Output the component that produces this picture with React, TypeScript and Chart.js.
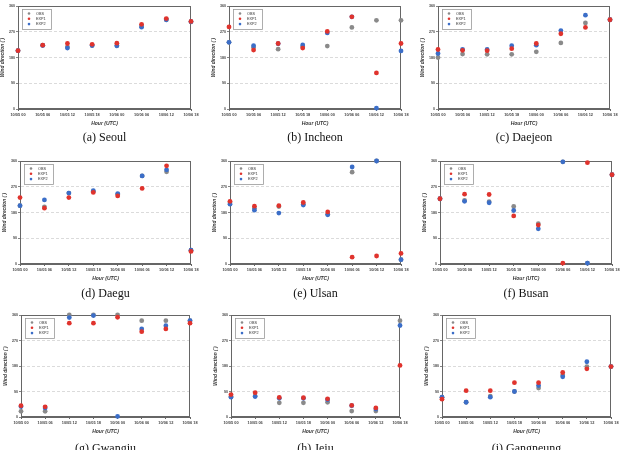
import React, { useEffect, useRef } from "react";
import { Chart, registerables } from "chart.js";
Chart.register(...registerables);

// ---------- data ----------
const hours = ["10/05 00", "10/05 06", "10/05 12", "10/05 18", "10/06 00", "10/06 06", "10/06 12", "10/06 18"];
const yTicks = [0, 90, 180, 270, 360];
const seriesNames = ["OBS", "EXP1", "EXP2"];

const seoulOBS = [204, 223, 217, 222, 221, 290, 312, 305];
const seoulEXP1 = [204, 223, 229, 226, 230, 296, 316, 306];
const seoulEXP2 = [204, 222, 213, 222, 221, 286, 312, 305];

const incheonOBS = [233, 215, 209, 218, 220, 285, 310, 310];
const incheonEXP1 = [287, 206, 229, 213, 271, 322, 126, 229];
const incheonEXP2 = [233, 221, 228, 224, 266, 322, 3, 203];

const daejeonOBS = [180, 192, 191, 191, 200, 231, 301, 312];
const daejeonEXP1 = [208, 205, 204, 211, 229, 263, 285, 312];
const daejeonEXP2 = [194, 208, 208, 221, 223, 274, 328, 312];

const daeguOBS = [204, 200, 248, 254, 243, 308, 322, 48];
const daeguEXP1 = [232, 195, 232, 250, 238, 264, 343, 44];
const daeguEXP2 = [204, 224, 248, 256, 246, 308, 329, 48];

const ulsanOBS = [214, 195, 201, 209, 174, 321, 360, 15];
const ulsanEXP1 = [219, 202, 204, 215, 182, 24, 28, 37];
const ulsanEXP2 = [209, 188, 178, 206, 172, 339, 360, 15];

const busanOBS = [228, 222, 218, 201, 141, 357, 3, 312];
const busanEXP1 = [228, 244, 243, 168, 136, 3, 354, 312];
const busanEXP2 = [228, 219, 214, 187, 123, 357, 3, 312];

const gwangjuOBS = [20, 20, 360, 360, 360, 340, 340, 340];
const gwangjuEXP1 = [40, 36, 331, 331, 352, 301, 311, 331];
const gwangjuEXP2 = [37, 32, 351, 358, 2, 311, 322, 340];

const jejuOBS = [73, 74, 50, 50, 52, 21, 21, 340];
const jejuEXP1 = [79, 86, 69, 68, 64, 41, 32, 182];
const jejuEXP2 = [70, 72, 66, 66, 61, 40, 28, 323];

const gangneungOBS = [70, 52, 74, 90, 102, 148, 178, 178];
const gangneungEXP1 = [63, 93, 93, 121, 121, 157, 170, 178];
const gangneungEXP2 = [70, 52, 70, 90, 111, 142, 195, 178];

const captions = [
  "(a) Seoul", "(b) Incheon", "(c) Daejeon",
  "(d) Daegu", "(e) Ulsan", "(f) Busan",
  "(g) Gwangju", "(h) Jeju", "(i) Gangneung",
];
const stationSeries = [
  [seoulOBS, seoulEXP1, seoulEXP2],
  [incheonOBS, incheonEXP1, incheonEXP2],
  [daejeonOBS, daejeonEXP1, daejeonEXP2],
  [daeguOBS, daeguEXP1, daeguEXP2],
  [ulsanOBS, ulsanEXP1, ulsanEXP2],
  [busanOBS, busanEXP1, busanEXP2],
  [gwangjuOBS, gwangjuEXP1, gwangjuEXP2],
  [jejuOBS, jejuEXP1, jejuEXP2],
  [gangneungOBS, gangneungEXP1, gangneungEXP2],
];

// ---------- styles / layout ----------
const seriesColors = ["#8a8a8a", "#e0332d", "#3b6ec8"];
const seriesOrder = [3, 1, 2];
const plotBoxes = [
  { cl: 18, cr: 191, ct: 6, cb: 109, cap: 137 },
  { cl: 229, cr: 401, ct: 6, cb: 109, cap: 137 },
  { cl: 438, cr: 610, ct: 6, cb: 109, cap: 137 },
  { cl: 20, cr: 191, ct: 161, cb: 264, cap: 293 },
  { cl: 230, cr: 401, ct: 161, cb: 264, cap: 293 },
  { cl: 440, cr: 612, ct: 161, cb: 264, cap: 293 },
  { cl: 21, cr: 190, ct: 315, cb: 417, cap: 448 },
  { cl: 231, cr: 400, ct: 315, cb: 417, cap: 448 },
  { cl: 442, cr: 611, ct: 315, cb: 417, cap: 448 },
];
const Y_AXIS_W = 18;
const PAD_TOP = 5;
const PAD_RIGHT = 12;
const X_AXIS_H = 22;
const SANS = "'Liberation Sans', Arial, sans-serif";

const frameLegendPlugin = {
  id: "frameLegend",
  beforeDatasetsDraw(chart: any) {
    const { ctx, chartArea: a } = chart;
    ctx.save();
    ctx.strokeStyle = "#666666";
    ctx.lineWidth = 1;
    ctx.strokeRect(Math.round(a.left) + 0.5, Math.round(a.top) + 0.5, Math.round(a.right - a.left) - 1, Math.round(a.bottom - a.top) - 1);
    ctx.restore();
  },
  afterDraw(chart: any) {
    const { ctx, chartArea: a } = chart;
    const bx = Math.round(a.left) + 4;
    const by = Math.round(a.top) + 3;
    ctx.save();
    ctx.fillStyle = "#ffffff";
    ctx.fillRect(bx, by, 29, 20);
    ctx.strokeStyle = "#9a9a9a";
    ctx.lineWidth = 0.8;
    ctx.strokeRect(bx + 0.5, by + 0.5, 29, 20);
    chart.data.datasets.forEach((ds: any, k: number) => {
      const y = by + 4.5 + k * 5.3;
      ctx.beginPath();
      ctx.fillStyle = ds.backgroundColor;
      ctx.arc(bx + 7, y, 1.3, 0, Math.PI * 2);
      ctx.fill();
      ctx.fillStyle = "#333";
      ctx.font = `3.8px ${SANS}`;
      ctx.textBaseline = "middle";
      ctx.textAlign = "left";
      ctx.fillText(ds.label, bx + 14, y);
    });
    ctx.restore();
  },
};

function Panel({ idx }: { idx: number }) {
  const ref = useRef<HTMLCanvasElement>(null);
  const box = plotBoxes[idx];
  const w = box.cr - box.cl + Y_AXIS_W + PAD_RIGHT;
  const h = box.cb - box.ct + PAD_TOP + X_AXIS_H;

  useEffect(() => {
    if (!ref.current) return;
    const series = stationSeries[idx];
    const chart = new Chart(ref.current, {
      type: "scatter",
      data: {
        datasets: series.map((vals, k) => ({
          label: seriesNames[k],
          data: vals.map((v, i) => ({ x: i, y: v })),
          backgroundColor: seriesColors[k],
          borderColor: seriesColors[k],
          pointRadius: 2.4,
          pointBorderWidth: 0,
          order: seriesOrder[k],
          clip: false,
        })),
      },
      options: {
        responsive: false,
        animation: false,
        events: [],
        layout: { padding: { top: PAD_TOP, right: PAD_RIGHT, left: 0, bottom: 0 } },
        plugins: { legend: { display: false }, tooltip: { enabled: false } },
        scales: {
          x: {
            type: "linear",
            min: 0,
            max: hours.length - 1,
            afterBuildTicks: (s: any) => {
              s.ticks = hours.map((_, i) => ({ value: i }));
            },
            afterFit: (s: any) => {
              s.height = X_AXIS_H;
            },
            ticks: {
              autoSkip: false,
              maxRotation: 0,
              padding: 2,
              color: "#444",
              font: { size: 3.9, family: SANS, weight: "bold" },
              callback: (v: any) => hours[v],
            },
            grid: { drawOnChartArea: false, tickLength: 2, tickColor: "#666", color: "#666" },
            border: { display: true, color: "#666666" },
            title: {
              display: true,
              text: "Hour (UTC)",
              color: "#333",
              padding: { top: 0, bottom: 4 },
              font: { size: 5, family: SANS, weight: "bold", style: "italic" },
            },
          },
          y: {
            min: 0,
            max: 360,
            afterBuildTicks: (s: any) => {
              s.ticks = yTicks.map((v) => ({ value: v }));
            },
            afterFit: (s: any) => {
              s.width = Y_AXIS_W;
            },
            ticks: {
              padding: 1,
              color: "#444",
              font: { size: 3.6, family: SANS, weight: "bold" },
            },
            grid: { color: "#d2d2d2", lineWidth: 0.8, tickLength: 2, tickColor: "#666", tickBorderDash: [] },
            border: { display: true, color: "#666666", dash: [3, 2] },
            title: {
              display: true,
              text: "Wind direction (˚)",
              color: "#333",
              padding: { top: 0, bottom: 0 },
              font: { size: 4.8, family: SANS, weight: "bold", style: "italic" },
            },
          },
        },
      } as any,
      plugins: [frameLegendPlugin],
    });
    return () => chart.destroy();
  }, [idx]);

  return (
    <>
      <canvas
        ref={ref}
        width={w}
        height={h}
        style={{ position: "absolute", left: box.cl - Y_AXIS_W, top: box.ct - PAD_TOP, width: w, height: h, display: "block" }}
      />
      <div
        style={{
          position: "absolute",
          left: box.cl - 20,
          width: box.cr - box.cl + 40,
          top: box.cap - 8,
          height: 16,
          lineHeight: "16px",
          textAlign: "center",
          fontFamily: "'Liberation Serif', 'Times New Roman', serif",
          fontSize: 12,
          color: "#111",
          whiteSpace: "nowrap",
        }}
      >
        {captions[idx]}
      </div>
    </>
  );
}

export default function App() {
  return (
    <div
      style={{
        position: "fixed",
        left: 0,
        top: 0,
        width: 624,
        height: 450,
        overflow: "hidden",
        background: "#ffffff",
      }}
    >
      {captions.map((_, i) => (
        <Panel key={i} idx={i} />
      ))}
    </div>
  );
}
